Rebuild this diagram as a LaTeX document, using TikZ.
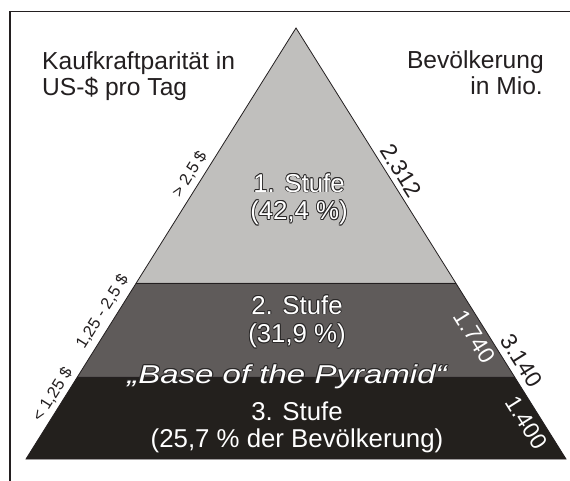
\documentclass[tikz,border=0pt]{standalone}
\usepackage{fontspec}
\setmainfont{Liberation Sans}
\usetikzlibrary{calc}
\definecolor{bandA}{HTML}{C0BFBD}
\definecolor{bandB}{HTML}{5F5B5A}
\definecolor{bandC}{HTML}{23201D}
\definecolor{ink}{HTML}{231F20}
\definecolor{olc}{HTML}{2A2828}
\newlength\olr
\setlength\olr{0.85pt}
\newcommand\oltext[1]{{\setbox0=\hbox{#1}%
 \leavevmode
 \rlap{\kern\olr\hbox{\color{olc}\copy0}}%
 \rlap{\kern-\olr\hbox{\color{olc}\copy0}}%
 \rlap{\raise\olr\hbox{\color{olc}\copy0}}%
 \rlap{\lower\olr\hbox{\color{olc}\copy0}}%
 \rlap{\kern0.7\olr\raise0.7\olr\hbox{\color{olc}\copy0}}%
 \rlap{\kern-0.7\olr\raise0.7\olr\hbox{\color{olc}\copy0}}%
 \rlap{\kern0.7\olr\lower0.7\olr\hbox{\color{olc}\copy0}}%
 \rlap{\kern-0.7\olr\lower0.7\olr\hbox{\color{olc}\copy0}}%
 \hbox{\color{white}\box0}}}
\tikzset{
  frameline/.style={draw=ink, line width=1.6pt},
  edgeline/.style={draw=ink, line width=0.8pt, line join=miter},
  titletext/.style={text=ink, inner sep=0pt, font=\fontsize{24.6}{26}\selectfont},
  stufetext/.style={text=white, inner sep=0pt, anchor=base, font=\fontsize{25.8}{27}\selectfont},
  lefttag/.style={text=ink, inner sep=0pt, anchor=base, rotate=57.87, font=\fontsize{16.5}{18}\selectfont},
  righttag/.style={text=ink, inner sep=0pt, anchor=base, rotate=-57.87, font=\fontsize{23}{25}\selectfont},
  righttagin/.style={righttag, text=white},
}
\begin{document}
\begin{tikzpicture}[x=1pt,y=-1pt]
\useasboundingbox (0,0) rectangle (570,480);
\clip (0,0) rectangle (570,480);
\fill[white] (0,0) rectangle (570,480);
% frame
\coordinate (fb) at (10,495);
\coordinate (ftl) at (10,11.5);
\coordinate (ftr) at (585,11.5);
\draw[frameline] (fb) -- (ftl) -- (ftr);
% pyramid
\coordinate (T) at (296,28);
\coordinate (L) at (26,459);
\coordinate (R) at (566,459);
\coordinate (L1) at ($(L)!0.4084!(T)$);
\coordinate (R1) at ($(R)!0.4084!(T)$);
\coordinate (L2) at ($(L)!0.1903!(T)$);
\coordinate (R2) at ($(R)!0.1903!(T)$);
\fill[bandA] (T) -- (L1) -- (R1) -- cycle;
\fill[bandB] (L1) -- (L2) -- (R2) -- (R1) -- cycle;
\fill[bandC] (L2) -- (L) -- (R) -- (R2) -- cycle;
\draw[edgeline] (L1) -- (R1);
\draw[edgeline] (L2) -- (R2);
\draw[edgeline] (T) -- (L) -- (R) -- cycle;
% titles
\node[titletext, anchor=base west] (k1) at (42,69) {Kaufkraftparität in};
\node[titletext, anchor=base west] (k2) at (42,95) {US-\$ pro Tag};
\node[titletext, anchor=base east] (b1) at (544,68) {Bevölkerung};
\node[titletext, anchor=base east] (b2) at (543,94) {in Mio.};
% level texts
\node[stufetext] (s1a) at (299,192) {\oltext{1. Stufe}};
\node[stufetext] (s1b) at (299,219.5) {\oltext{(42,4 \%)}};
\node[stufetext] (s2a) at (297,314) {\oltext{2. Stufe}};
\node[stufetext] (s2b) at (297,342.5) {\oltext{(31,9 \%)}};
\node[stufetext] (bop) at (287,383) {\scalebox{1.28}[1]{\itshape\oltext{„Base of the Pyramid“}}};
\node[stufetext] (s3a) at (297,420) {3. Stufe};
\node[stufetext] (s3b) at (297,447) {(25,7 \% der Bevölkerung)};
% left tags
\coordinate (pl1) at ($(L)!0.645!(T)$);
\coordinate (pl2) at ($(L)!0.325!(T)$);
\coordinate (pl3) at ($(L)!0.1346!(T)$);
\node[lefttag] (t1) at ($(pl1)!7.5pt!90:(T)$) {> 2,5 \$};
\node[lefttag] (t2) at ($(pl2)!8.5pt!90:(T)$) {1,25 - 2,5 \$};
\node[lefttag] (t3) at ($(pl3)!6.5pt!90:(T)$) {< 1,25 \$};
% right tags
\coordinate (pr1) at ($(R)!0.653!(T)$);
\coordinate (pr2) at ($(R)!0.2993!(T)$);
\coordinate (pr3) at ($(R)!0.2104!(T)$);
\coordinate (pr4) at ($(R)!0.102!(T)$);
\node[righttag] (r1) at ($(pr1)!5.5pt!-90:(T)$) {2.312};
\node[righttagin] (r2) at ($(pr2)!20pt!90:(T)$) {1.740};
\node[righttag] (r3) at ($(pr3)!6.5pt!-90:(T)$) {3.140};
\node[righttagin] (r4) at ($(pr4)!22pt!90:(T)$) {1.400};
\end{tikzpicture}
\end{document}
